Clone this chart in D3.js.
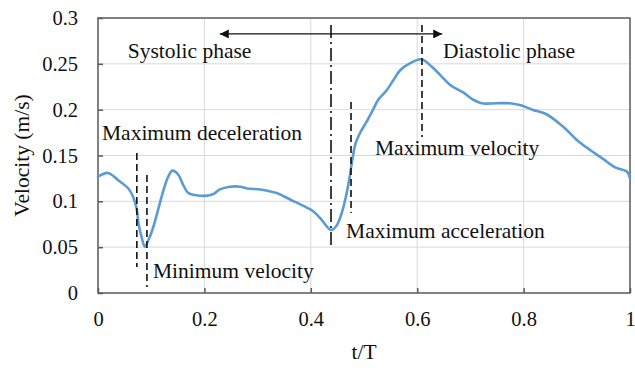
<!DOCTYPE html>
<html>
<head>
<meta charset="utf-8">
<script src="https://cdn.jsdelivr.net/npm/d3@7"></script>
<style>
  body { margin: 0; background: #fff; }
  svg text { font-family: "Liberation Serif", "Times New Roman", Times, "DejaVu Serif", serif !important; fill: #111; }
</style>
</head>
<body>
<div id="chart"></div>
<script>
// data
var tValues = [0, 0.019, 0.038, 0.057, 0.066, 0.073, 0.076, 0.082, 0.088, 0.095,
  0.104, 0.113, 0.123, 0.132, 0.140, 0.151, 0.160, 0.170, 0.182, 0.201,
  0.217, 0.229, 0.248, 0.267, 0.280, 0.305, 0.336, 0.361, 0.386, 0.405,
  0.420, 0.438, 0.449, 0.458, 0.466, 0.472, 0.478, 0.484, 0.492, 0.505,
  0.517, 0.527, 0.543, 0.555, 0.568, 0.586, 0.608, 0.627, 0.643, 0.662,
  0.687, 0.705, 0.721, 0.749, 0.774, 0.793, 0.818, 0.843, 0.875, 0.900,
  0.925, 0.950, 0.972, 0.994, 1.0];
var velocity = [0.127, 0.131, 0.123, 0.114, 0.105, 0.091, 0.076, 0.061, 0.0505, 0.058,
  0.072, 0.091, 0.112, 0.127, 0.1335, 0.129, 0.118, 0.109, 0.107, 0.106,
  0.108, 0.113, 0.116, 0.116, 0.114, 0.113, 0.109, 0.102, 0.095, 0.089,
  0.080, 0.0687, 0.074, 0.087, 0.105, 0.123, 0.145, 0.163, 0.174, 0.187,
  0.200, 0.211, 0.2215, 0.232, 0.243, 0.2505, 0.255, 0.247, 0.238, 0.227,
  0.2185, 0.211, 0.207, 0.207, 0.207, 0.205, 0.1997, 0.195, 0.181, 0.167,
  0.156, 0.146, 0.137, 0.1325, 0.125];

var xTicks = [0, 0.2, 0.4, 0.6, 0.8, 1];
var yTicks = [0, 0.05, 0.1, 0.15, 0.2, 0.25, 0.3];

// vertical marker lines: [t, vTop, vBottom, kind]
var markerT = [0.073, 0.092, 0.438, 0.4756, 0.609];
var markerTop = [0.1527, 0.1287, 0.2924, 0.2084, 0.2924];
var markerBottom = [0.0284, 0.0065, 0.048, 0.0873, 0.1702];
var markerKind = ["dash", "dash", "dashdot", "dash", "dash"];

// phase arrow
var arrowT = [0.229, 0.647];
var arrowV = 0.2826;

// annotation labels
var labelText = ["Systolic phase", "Diastolic phase", "Maximum deceleration",
  "Maximum velocity", "Maximum acceleration", "Minimum velocity"];
var labelT = [0.056, 0.6485, 0.0075, 0.5207, 0.4662, 0.1034];
var labelV = [0.2564, 0.2564, 0.1673, 0.1506, 0.0595, 0.0164];

var serif = '"Liberation Serif", "Times New Roman", Times, "DejaVu Serif", serif';

var svgWidth = 635;
var svgHeight = 368;
var margin = { top: 18, right: 5, bottom: 75, left: 98 };
var width = svgWidth - margin.left - margin.right;
var height = svgHeight - margin.top - margin.bottom;

var svg = d3.select("#chart")
  .append("svg")
  .attr("width", svgWidth)
  .attr("height", svgHeight);

var chartGroup = svg.append("g")
  .attr("transform", `translate(${margin.left}, ${margin.top})`);

var xScale = d3.scaleLinear().domain([0, 1]).range([0, width]);
var yScale = d3.scaleLinear().domain([0, 0.3]).range([height, 0]);

// gridlines
chartGroup.append("g")
  .selectAll("line")
  .data(xTicks.slice(1, -1))
  .enter()
  .append("line")
  .attr("x1", d => xScale(d)).attr("x2", d => xScale(d))
  .attr("y1", 0).attr("y2", height)
  .attr("stroke", "#d9d9d9").attr("stroke-width", 1);

chartGroup.append("g")
  .selectAll("line")
  .data(yTicks.slice(1, -1))
  .enter()
  .append("line")
  .attr("x1", 0).attr("x2", width)
  .attr("y1", d => yScale(d)).attr("y2", d => yScale(d))
  .attr("stroke", "#d9d9d9").attr("stroke-width", 1);

// axes with inside ticks
var bottomAxis = d3.axisBottom(xScale).tickValues(xTicks).tickSizeInner(-5).tickSizeOuter(0)
  .tickPadding(18).tickFormat(d3.format("~g"));
var leftAxis = d3.axisLeft(yScale).tickValues(yTicks).tickSizeInner(-5).tickSizeOuter(0)
  .tickPadding(20).tickFormat(d3.format("~g"));

var xAxisG = chartGroup.append("g")
  .attr("transform", `translate(0, ${height})`)
  .call(bottomAxis);
var yAxisG = chartGroup.append("g").call(leftAxis);

[xAxisG, yAxisG].forEach(function(g) {
  g.attr("font-family", null).attr("font-size", null);
  g.select(".domain").remove();
  g.selectAll(".tick line").attr("stroke", "#595959").attr("stroke-width", 1.5);
  g.selectAll(".tick text")
    .style("font-family", serif)
    .style("font-size", "20.5px")
    .attr("fill", "#111");
});

// frame
chartGroup.append("rect")
  .attr("x", 0).attr("y", 0)
  .attr("width", width).attr("height", height)
  .attr("fill", "none")
  .attr("stroke", "#595959")
  .attr("stroke-width", 1.5);

// velocity curve
var points = tValues.map((t, i) => [t, velocity[i]]);
var line = d3.line()
  .x(d => xScale(d[0]))
  .y(d => yScale(d[1]))
  .curve(d3.curveCatmullRom.alpha(0.5));

chartGroup.append("path")
  .datum(points)
  .attr("d", line)
  .attr("fill", "none")
  .attr("stroke", "#5b9bd5")
  .attr("stroke-width", 2.6)
  .attr("stroke-linejoin", "round")
  .attr("stroke-linecap", "round");

// marker lines
chartGroup.selectAll(".marker")
  .data(markerT)
  .enter()
  .append("line")
  .attr("class", "marker")
  .attr("x1", d => xScale(d)).attr("x2", d => xScale(d))
  .attr("y1", (d, i) => yScale(markerTop[i]))
  .attr("y2", (d, i) => yScale(markerBottom[i]))
  .attr("stroke", "#111")
  .attr("stroke-width", 1.6)
  .attr("stroke-dasharray", (d, i) => markerKind[i] === "dash" ? "7,4" : "13,4,2,4");

// phase arrow
var defs = svg.append("defs");
defs.append("marker")
  .attr("id", "arrowhead")
  .attr("viewBox", "0 0 10 10")
  .attr("refX", 10).attr("refY", 5)
  .attr("markerWidth", 11).attr("markerHeight", 9)
  .attr("markerUnits", "userSpaceOnUse")
  .attr("orient", "auto-start-reverse")
  .append("path")
  .attr("d", "M0,0L10,5L0,10Z")
  .attr("fill", "#111");

chartGroup.append("line")
  .attr("x1", xScale(arrowT[0])).attr("x2", xScale(arrowT[1]))
  .attr("y1", yScale(arrowV)).attr("y2", yScale(arrowV))
  .attr("stroke", "#111")
  .attr("stroke-width", 1.3)
  .attr("marker-start", "url(#arrowhead)")
  .attr("marker-end", "url(#arrowhead)");

// annotation labels
chartGroup.selectAll(".label")
  .data(labelText)
  .enter()
  .append("text")
  .attr("class", "label")
  .attr("x", (d, i) => xScale(labelT[i]))
  .attr("y", (d, i) => yScale(labelV[i]))
  .style("font-family", serif)
  .style("font-size", "21.5px")
  .text(d => d);

// axis titles
chartGroup.append("text")
  .attr("x", width / 2)
  .attr("y", height + 66)
  .attr("text-anchor", "middle")
  .style("font-family", serif)
  .style("font-size", "21.5px")
  .text("t/T");

chartGroup.append("text")
  .attr("transform", "rotate(-90)")
  .attr("x", 0 - (height / 2))
  .attr("y", 0 - margin.left + 29)
  .attr("text-anchor", "middle")
  .style("font-family", serif)
  .style("font-size", "21.5px")
  .text("Velocity (m/s)");
</script>
</body>
</html>
